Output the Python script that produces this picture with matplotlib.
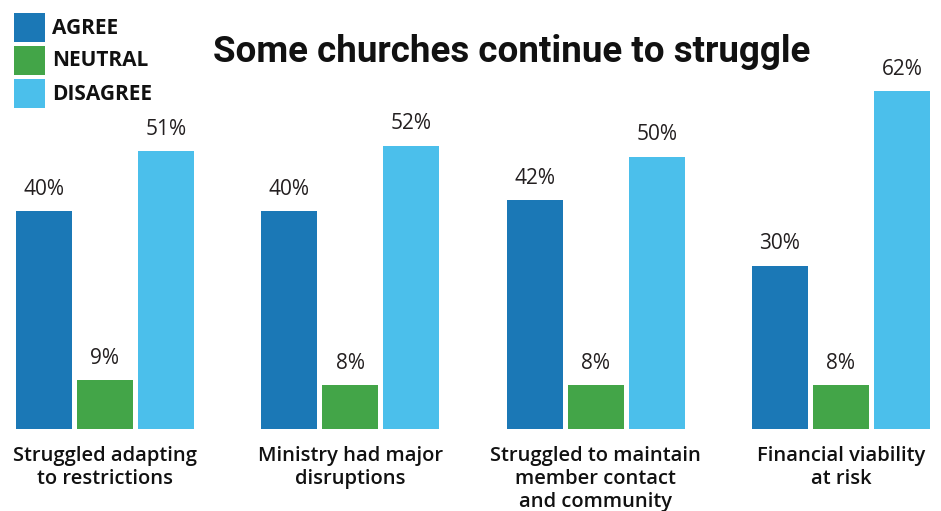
import matplotlib.pyplot as plt
from matplotlib.patches import Rectangle
import numpy as np

categories = ['Struggled adapting\nto restrictions', 'Ministry had major\ndisruptions',
              'Struggled to maintain\nmember contact\nand community', 'Financial viability\nat risk']
agree = [40, 40, 42, 30]
neutral = [9, 8, 8, 8]
disagree = [51, 52, 50, 62]
series_names = ['AGREE', 'NEUTRAL', 'DISAGREE']
colors = ['#1b78b6', '#43a548', '#4bbfeb']

W, H = 941, 511
fig = plt.figure(figsize=(W / 100, H / 100), dpi=100)
# axes spans the whole width, baseline at pixel row 429
ax = fig.add_axes([0, (H - 429) / H, 1, 429 / H])

pitch = 245.33
x = np.arange(len(categories))
bw = 56 / pitch
off = 61 / pitch

txt_font = 'Open Sans'
for i, (vals, name, c) in enumerate(zip([agree, neutral, disagree], series_names, colors)):
    xs = x + (i - 1) * off
    ax.bar(xs, vals, width=bw, color=c, label=name)
    for xx, v in zip(xs, vals):
        ax.annotate(f'{v}%', (xx, v), xytext=(0, 8), textcoords='offset points',
                    ha='center', va='bottom', fontsize=15, family=txt_font, color='#231f20')

ax.set_xlim(-105 / pitch, (W - 105) / pitch)
ax.set_ylim(0, 429 / 5.45)
ax.axis('off')

for xx, lab in zip(x, categories):
    ax.annotate(lab, (xx, 0), xytext=(0, -12), textcoords='offset points', ha='center',
                va='top', fontsize=14.5, family=txt_font, fontweight='semibold',
                linespacing=1.22, color='#111111')

fig.text(512 / W, 1 - 52 / H, 'Some churches continue to struggle', ha='center', va='center',
         fontsize=26.5, fontweight='bold', family=['Roboto', 'DejaVu Sans'], color='#111111')

# legend drawn by hand: squares + bold labels
for i, (name, c) in enumerate(zip(series_names, colors)):
    top = 13 + i * 33
    fig.add_artist(Rectangle((14 / W, 1 - (top + 29) / H), 31 / W, 29 / H,
                             transform=fig.transFigure, color=c, lw=0))
    fig.text(52 / W, 1 - (top + 15) / H, name, ha='left', va='center', fontsize=15,
             fontweight='bold', family=txt_font, color='#111111')

fig.savefig('out.png', dpi=100)
